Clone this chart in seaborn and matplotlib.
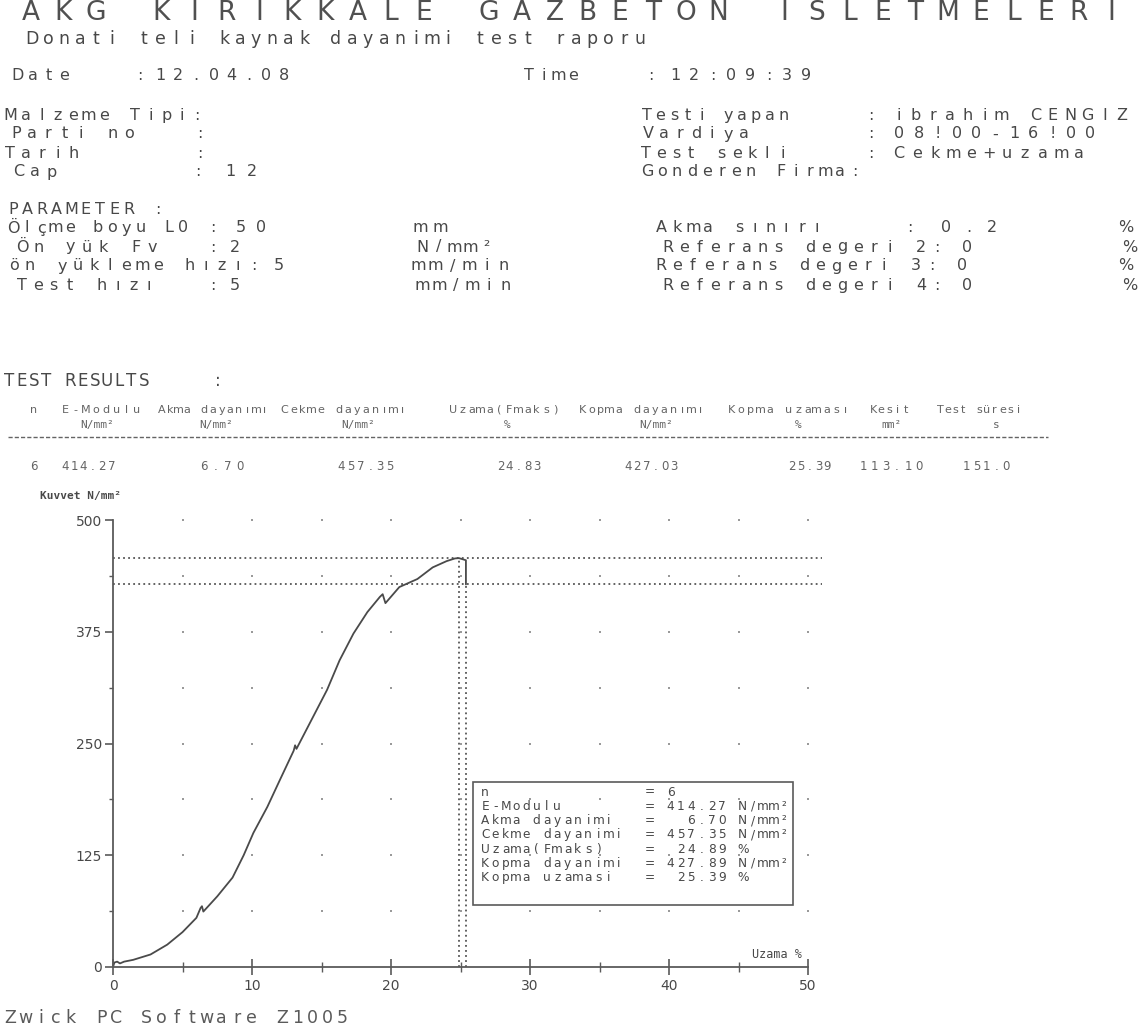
import numpy as np
import pandas as pd
import matplotlib
matplotlib.use("Agg")
import matplotlib.pyplot as plt
import seaborn as sns
from matplotlib.patches import Rectangle
from matplotlib.lines import Line2D

# ---------------- data ----------------
strain = [0, 0.1, 0.3, 0.5, 0.8, 1.45, 2.7, 3.9, 5.0, 6.0, 6.3, 6.4, 6.5, 7.5, 8.6, 9.4,
          10.1, 11.1, 12.0, 13.0, 13.1, 13.2, 14.4, 15.4, 16.3, 17.3, 18.3, 19.2, 19.4,
          19.6, 20.6, 21.9, 23.0, 24.0, 24.6, 24.89, 25.39, 25.39]
stress = [0, 5, 6, 4, 6, 8, 14, 25, 39, 55, 66, 68, 62, 79, 100, 125,
          150, 179, 209, 242, 248, 244, 280, 310, 343, 373, 397, 414, 417,
          407, 425, 434, 447, 454, 457, 457.35, 455, 427.89]

fmax_stress = 457.35
break_stress = 427.89
fmax_strain = 24.89
break_strain = 25.39

x_ticks = [0, 10, 20, 30, 40, 50]
y_ticks = [0, 125, 250, 375, 500]

table_header = ["n", "E-Modulu", "Akma dayanımı", "Cekme dayanımı", "Uzama(Fmaks)",
                "Kopma dayanımı", "Kopma uzaması", "Kesit", "Test süresi"]
table_units = ["N/mm²", "N/mm²", "N/mm²", "%", "N/mm²", "%", "mm²", "s"]
table_values = ["6", "414.27", "6.70", "457.35", "24.83", "427.03", "25.39", "113.10", "151.0"]

box_labels = ["n", "E-Modulu", "Akma dayanimi", "Cekme dayanimi", "Uzama(Fmaks)",
              "Kopma dayanimi", "Kopma uzamasi"]
box_values = ["6", "414.27", "6.70", "457.35", "24.89", "427.89", "25.39"]
box_units = ["", "N/mm²", "N/mm²", "N/mm²", "%", "N/mm²", "%"]

# ---------------- style ----------------
sns.set_theme(style="white")
FONT = ["DejaVu Sans", "DejaVu Sans Mono"]
MONO = ["DejaVu Sans Mono", "DejaVu Sans"]
plt.rcParams["font.family"] = FONT
INK = "#484848"
LIGHT = "#646464"

W, H = 1141, 1036
fig = plt.figure(figsize=(W / 100, H / 100), dpi=100)
fig.patch.set_facecolor("white")


def ptext(s, x0, x1, y, size, color=INK, family=FONT, weight="normal"):
    """Fixed-pitch printer-like text spread evenly between x0 and x1 (pixels)."""
    n = len(s)
    pitch = (x1 - x0) / n
    for i, ch in enumerate(s):
        if ch == " ":
            continue
        fig.text((x0 + (i + 0.5) * pitch) / W, 1 - y / H, ch, ha="center", va="center",
                 fontsize=size, color=color, family=family, weight=weight)


def stext(s, x, y, size, color=INK, ha="left", family=MONO, weight="normal"):
    fig.text(x / W, 1 - y / H, s, ha=ha, va="center", fontsize=size, color=color,
             family=family, weight=weight)


# ---------------- header ----------------
ptext("AKG KIRIKKALE GAZBETON ISLETMELERI", 14, 1128, 13, 19, "#505050")
ptext("Donati teli kaynak dayanimi test raporu", 24, 648, 39, 12.5)

ROW = 11.5
rows = [
    (75, [("Date", 10, 72), (":", 134, 146), ("12.04.08", 152, 293),
          ("Time", 522, 580), (":", 646, 656), ("12:09:39", 666, 815)]),
    (115, [("Malzeme Tipi:", 3, 205), ("Testi yapan", 640, 790), (":", 866, 876),
           ("ibrahim CENGIZ", 890, 1130)]),
    (134, [("Parti no", 8, 137), (":", 195, 205), ("Vardiya", 640, 752), (":", 866, 876),
           ("08!00-16!00", 890, 1100)]),
    (153, [("Tarih", 2, 82), (":", 195, 205), ("Test sekli", 638, 790), (":", 866, 876),
           ("Cekme+uzama", 890, 1088)]),
    (172, [("Cap", 10, 60), (":", 193, 203), ("12", 220, 263), ("Gonderen Firma:", 640, 862)]),
    (209, [("PARAMETER :", 6, 165)]),
    (228, [("Ölçme boyu L0", 6, 190), (":", 208, 218), ("50", 230, 272), ("mm", 410, 450),
           ("Akma sınırı", 654, 825), (":", 905, 915), ("0.2", 935, 1003), ("%", 1120, 1132)]),
    (247, [("Ön yük Fv", 14, 160), (":", 208, 218), ("2", 228, 242), ("N/mm²", 414, 495),
           ("Referans degeri 2:", 660, 945), ("0", 960, 975), ("%", 1124, 1136)]),
    (266, [("ön yükleme hızı:", 6, 262), ("5", 272, 286), ("mm/min", 410, 512),
           ("Referans degeri 3:", 653, 940), ("0", 955, 970), ("%", 1120, 1132)]),
    (285, [("Test hızı", 14, 157), (":", 208, 218), ("5", 228, 242), ("mm/min", 414, 514),
           ("Referans degeri 4:", 660, 945), ("0", 960, 975), ("%", 1124, 1136)]),
]
for y, frags in rows:
    for s, x0, x1 in frags:
        ptext(s, x0, x1, y, ROW)

# ---------------- test results table ----------------
ptext("TEST RESULTS", 3, 150, 381, 12)
ptext(":", 213, 223, 381, 12)

hdr_spans = [(30, 38), (60, 142), (157, 269), (280, 407), (448, 560),
             (578, 705), (727, 850), (869, 910), (936, 1022)]
for s, (x0, x1) in zip(table_header, hdr_spans):
    ptext(s, x0, x1, 410, 8, LIGHT)
unit_centers = [97, 216, 358, 507, 656, 798, 891, 996]
for s, xc in zip(table_units, unit_centers):
    stext(s, xc, 425, 8, LIGHT, ha="center")
fig.add_artist(Line2D([8 / W, 1048 / W], [1 - 437 / H, 1 - 437 / H], transform=fig.transFigure,
                      color=LIGHT, lw=1.0, linestyle=(0, (3, 1.5))))
val_spans = [(30, 38), (60, 116), (198, 246), (336, 395), (496, 541),
             (623, 679), (787, 832), (858, 925), (962, 1011)]
for s, (x0, x1) in zip(table_values, val_spans):
    ptext(s, x0, x1, 466, 8.5, LIGHT)

# ---------------- chart ----------------
px_per_x = 13.9
x_left, y_zero = 113, 967
px_per_y = 0.894
xmax, ymax = 51.5, 505
ax = fig.add_axes([x_left / W, (H - y_zero) / H, xmax * px_per_x / W, ymax * px_per_y / H])
ax.set_xlim(0, xmax)
ax.set_ylim(0, ymax)
ax.set_facecolor("none")

# dotted grid marks
gx, gy = np.meshgrid(np.arange(5, 51, 5), np.arange(62.5, 501, 62.5))
grid_df = pd.DataFrame({"x": gx.ravel(), "y": gy.ravel()})
sns.scatterplot(data=grid_df, x="x", y="y", marker="s", s=3, color="#9a9a9a",
                linewidth=0, ax=ax, legend=False)

# reference dotted lines
ax.hlines([fmax_stress, break_stress], 0, 51.0, colors="#555555", linestyles=(0, (1, 1.8)), lw=1.3)
ax.vlines([fmax_strain, break_strain], 0, [fmax_stress, break_stress], colors="#555555",
          linestyles=(0, (1, 1.8)), lw=1.3)

curve = pd.DataFrame({"strain": strain, "stress": stress})
sns.lineplot(data=curve, x="strain", y="stress", sort=False, estimator=None,
             color="#4a4a4a", lw=1.3, ax=ax)

for side in ["top", "right"]:
    ax.spines[side].set_visible(False)
ax.spines["left"].set_bounds(0, 500)
ax.spines["bottom"].set_bounds(0, 50)
for side in ["left", "bottom"]:
    ax.spines[side].set_color("#5a5a5a")
    ax.spines[side].set_linewidth(1.3)

ax.set_xticks(x_ticks)
ax.set_xticks(np.arange(5, 50, 10), minor=True)
ax.set_yticks(y_ticks)
ax.set_yticks(np.arange(62.5, 500, 125), minor=True)
ax.set_xticklabels([str(v) for v in x_ticks])
ax.set_yticklabels([str(v) for v in y_ticks])
ax.tick_params(axis="x", which="major", direction="inout", length=12, width=1.2,
               color="#5a5a5a", labelcolor=INK, labelsize=10, pad=3, bottom=True)
ax.tick_params(axis="x", which="minor", direction="inout", length=7, width=1.0,
               color="#5a5a5a", bottom=True)
ax.tick_params(axis="y", which="major", direction="out", length=6, width=1.2,
               color="#5a5a5a", labelcolor=INK, labelsize=10, pad=2, left=True)
ax.tick_params(axis="y", which="minor", direction="out", length=3, width=1.0,
               color="#5a5a5a", left=True)
ax.set_xlabel("")
ax.set_ylabel("")

stext("Kuvvet N/mm²", 40, 496, 8, INK, weight="bold")
stext("Uzama %", 752, 955, 8.5, INK)

# ---------------- result box ----------------
fig.add_artist(Rectangle((473 / W, 1 - 905 / H), (793 - 473) / W, (905 - 782) / H,
                         transform=fig.transFigure, fill=False, ec="#5a5a5a", lw=1.2))
pitch = 10.3
x_start = 480
for i, (lab, val, unit) in enumerate(zip(box_labels, box_values, box_units)):
    if lab == "n":
        line = f"{lab:<16}= {val}"
    else:
        line = f"{lab:<16}= {val:>6} {unit}".rstrip()
    ptext(line, x_start, x_start + pitch * len(line), 792 + i * 14.3, 8.7, INK)

# ---------------- footer ----------------
ptext("Zwick PC Software Z1005", 3, 350, 1018, 12.5, "#5a5a5a")

fig.savefig("out.png", dpi=100, facecolor="white")
